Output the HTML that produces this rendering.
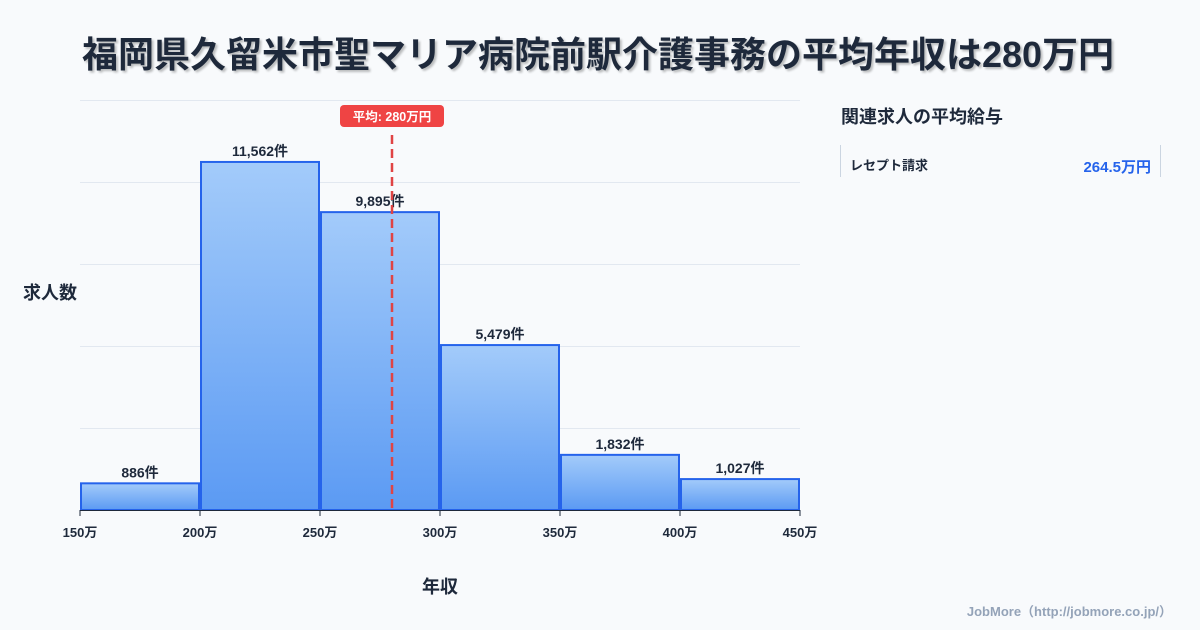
<!DOCTYPE html>
<html><head><meta charset="utf-8"><style>
body{margin:0;width:1200px;height:630px;background:#f8fafc;font-family:"Liberation Sans","Noto Sans CJK JP",sans-serif;overflow:hidden;position:relative}
svg{position:absolute;left:0;top:0}
</style></head><body>
<svg id="chart" width="1200" height="630">
<text x="598" y="67" text-anchor="middle" font-size="36" font-weight="700" fill="#1e293b" style="text-shadow:2px 2px 2px rgba(0,0,0,0.25)">福岡県久留米市聖マリア病院前駅介護事務の平均年収は280万円</text>
<defs><linearGradient id="g" x1="0" y1="0" x2="0" y2="1"><stop offset="0" stop-color="#a3cbfa"/><stop offset="1" stop-color="#5b9af3"/></linearGradient></defs>
<g id="grid"></g><g id="bars"></g><g id="xt"></g>
<text x="50" y="299" text-anchor="middle" font-size="18" font-weight="700" fill="#1e293b">求人数</text>
<text x="440" y="593" text-anchor="middle" font-size="18" font-weight="700" fill="#1e293b">年収</text>
<text x="841" y="123" font-size="18" font-weight="700" fill="#1e293b">関連求人の平均給与</text>
<line x1="840.5" y1="145" x2="840.5" y2="177" stroke="#cbd5e1"/>
<line x1="1160.5" y1="145" x2="1160.5" y2="177" stroke="#cbd5e1"/>
<text x="850" y="170" font-size="13" font-weight="700" fill="#1e293b">レセプト請求</text>
<text x="1151" y="172" text-anchor="end" font-size="15" font-weight="700" fill="#2563eb">264.5万円</text>
<text x="1172" y="616" text-anchor="end" font-size="13" font-weight="700" fill="#94a3b8">JobMore（http://jobmore.co.jp/）</text>
</svg>
<script>
const binStarts=[150,200,250,300,350,400];
const binEnds=[200,250,300,350,400,450];
const counts=[886,11562,9895,5479,1832,1027];
const countLabels=["886件","11,562件","9,895件","5,479件","1,832件","1,027件"];
const xTicks=[150,200,250,300,350,400,450];
const yGrid=[0,2724,5448,8172,10896,13620];
const meanSalary=280;
const meanLabel="平均: 280万円";
const NS="http://www.w3.org/2000/svg";
const X0=80,X1=800,Y0=510,Y1=100,XMIN=150,XMAX=450,YMAX=13620;
const xs=v=>X0+(v-XMIN)/(XMAX-XMIN)*(X1-X0);
const ys=v=>Y0-v/YMAX*(Y0-Y1);
function mk(t,a,p){const e=document.createElementNS(NS,t);for(const k in a)e.setAttribute(k,a[k]);p.appendChild(e);return e;}
const grid=document.getElementById('grid'),bars=document.getElementById('bars'),xt=document.getElementById('xt'),svg=document.getElementById('chart');
yGrid.forEach(v=>{const l=mk('line',{x1:X0,x2:X1,y1:ys(v)+0.5,y2:ys(v)+0.5,stroke:'#e2e8f0'},grid);

});
counts.forEach((c,i)=>{const x=xs(binStarts[i])+1,w=xs(binEnds[i])-xs(binStarts[i])-2,y=ys(c);
const r=mk('rect',{x:x,y:y,width:w,height:Y0-y,fill:'url(#g)',stroke:'#2563eb','stroke-width':2},bars);


const t=mk('text',{x:x+w/2,y:y-6,'text-anchor':'middle','font-size':14,'font-weight':700,fill:'#1e293b'},bars);t.textContent=countLabels[i];

});
mk('line',{x1:X0,x2:X1,y1:Y0+0.5,y2:Y0+0.5,stroke:'#1e293b'},xt);
xTicks.forEach(v=>{mk('line',{x1:xs(v),x2:xs(v),y1:Y0,y2:Y0+6,stroke:'#1e293b'},xt);
const t=mk('text',{x:xs(v),y:Y0+27,'text-anchor':'middle','font-size':13,'font-weight':700,fill:'#1e293b'},xt);t.textContent=v+'万';

});
const mx=xs(meanSalary);
const ml=mk('line',{x1:mx,x2:mx,y1:135,y2:Y0,stroke:'#e04444','stroke-width':2.5,'stroke-dasharray':'9,5'},svg);


const mb=mk('rect',{x:mx-52,y:105,width:104,height:22,rx:4,fill:'#ef4444'},svg);


const mt=mk('text',{x:mx,y:121,'text-anchor':'middle','font-size':12.5,'font-weight':700,fill:'#fff'},svg);mt.textContent=meanLabel;


</script>
</body></html>
